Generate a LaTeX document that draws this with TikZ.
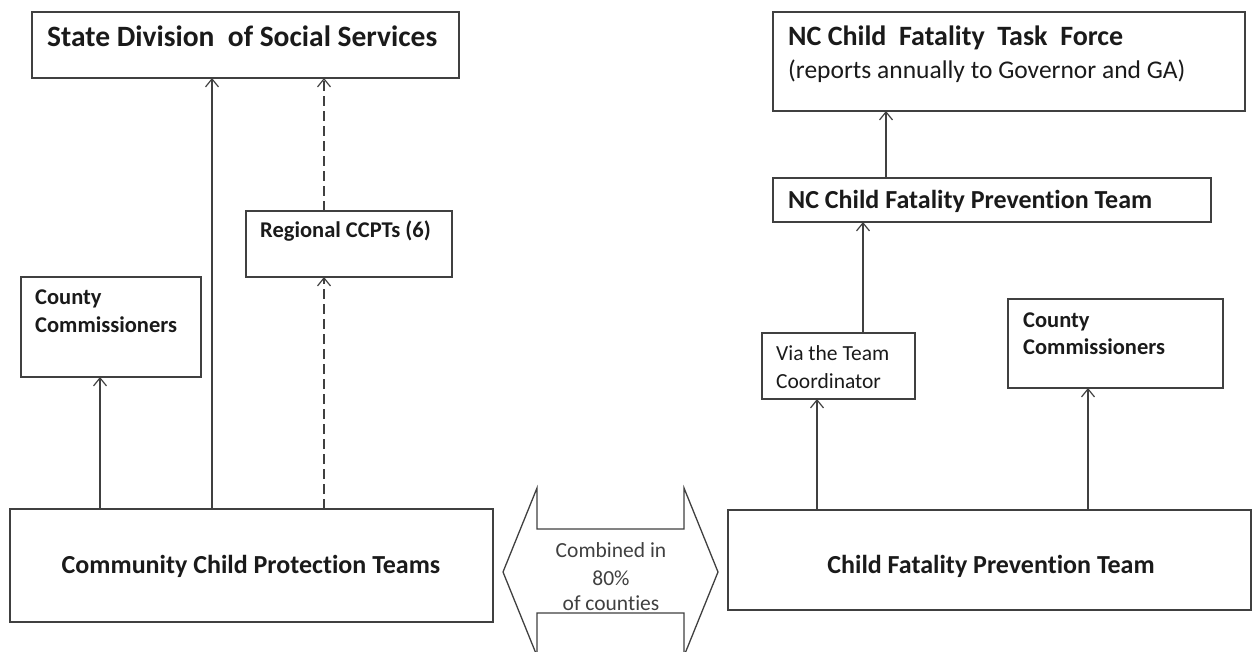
\documentclass[tikz,border=0pt]{standalone}
\usepackage{fontspec}
\setmainfont{Carlito}[Ligatures={NoCommon,NoContextual}]
\usetikzlibrary{arrows.meta}
\definecolor{ln}{HTML}{404040}
\definecolor{tx}{HTML}{1A1A1A}
\tikzset{
  box/.style={draw=ln, line width=1.3pt, rectangle, anchor=north west, inner sep=0pt, outer sep=0pt},
  arr/.style={draw=ln, line width=1.3pt, -{Straight Barb[length=8pt,width=13pt,line width=1.2pt]}},
  darr/.style={arr, dash pattern=on 10pt off 5pt},
  txt/.style={anchor=base west, inner sep=0pt, text=tx},
  ctxt/.style={anchor=base, inner sep=0pt, text=tx},
}
\newcommand{\fs}[1]{\fontsize{#1pt}{#1pt}\selectfont}
\begin{document}
\begin{tikzpicture}[x=1pt,y=-1pt]
\useasboundingbox (0,0) rectangle (1253,652);
% left side boxes
\node[box, minimum width=427pt, minimum height=66pt] (ssd) at (32,12) {};
\node[box, minimum width=206pt, minimum height=66pt] (reg) at (246,211) {};
\node[box, minimum width=180pt, minimum height=100pt] (ccL) at (21,277) {};
\node[box, minimum width=483pt, minimum height=113pt] (ccpt) at (10,509) {};
% right side boxes
\node[box, minimum width=472pt, minimum height=99pt] (task) at (773,12) {};
\node[box, minimum width=438pt, minimum height=44pt] (ncp) at (773,178) {};
\node[box, minimum width=153pt, minimum height=66pt] (via) at (762,333) {};
\node[box, minimum width=215pt, minimum height=89pt] (ccR) at (1008,299) {};
\node[box, minimum width=523pt, minimum height=100pt] (cfpt) at (728,510) {};
% texts
\node[txt] (tssd) at (47,47) {\fs{29.5}\bfseries State Division\ \ of Social Services};
\node[txt] (treg) at (260,238) {\fs{22.5}\bfseries Regional CCPTs (6)};
\node[txt] (tccL1) at (35,305) {\fs{22.5}\bfseries County};
\node[txt] (tccL2) at (35,332) {\fs{22.5}\bfseries Commissioners};
\node[ctxt] (tccpt) at (251,573) {\fs{26}\bfseries Community Child Protection Teams};
\node[txt] (ttask1) at (788,46) {\fs{28}\bfseries NC Child\ \ Fatality\ \ Task\ \ Force};
\node[txt] (ttask2) at (788,79) {\fs{25.5}(reports annually to Governor and GA)};
\node[txt] (tncp) at (788,209) {\fs{26}\bfseries NC Child Fatality Prevention Team};
\node[txt] (tvia1) at (776,360) {\fs{21.5}Via the Team};
\node[txt] (tvia2) at (776,388) {\fs{21.5}Coordinator};
\node[txt] (tccR1) at (1023,327) {\fs{22.5}\bfseries County};
\node[txt] (tccR2) at (1023,355) {\fs{22.5}\bfseries Commissioners};
\node[ctxt] (tcfpt) at (991,573) {\fs{26}\bfseries Child Fatality Prevention Team};
% double arrow
\draw[ln, line width=1.3pt, fill=white] (503,572) -- (537,488) -- (537,529) -- (684,529) -- (684,488) -- (718,572) -- (684,656) -- (684,613) -- (537,613) -- (537,656) -- cycle;
\node[ctxt, text=ln] (tcomb1) at (611,557) {\fs{21.5}Combined in};
\node[ctxt, text=ln] (tcomb2) at (611,585) {\fs{21.5}80\%};
\node[ctxt, text=ln] (tcomb3) at (611,610) {\fs{21.5}of counties};
% connectors
\draw[arr] ([xshift=90pt]ccpt.north west) -- ([xshift=79pt]ccL.south west);
\draw[arr] ([xshift=202pt]ccpt.north west) -- ([xshift=180pt]ssd.south west);
\draw[darr] ([xshift=314pt]ccpt.north west) -- ([xshift=78pt]reg.south west);
\draw[darr] ([xshift=78pt]reg.north west) -- ([xshift=292pt]ssd.south west);
\draw[arr] ([xshift=89pt]cfpt.north west) -- ([xshift=55pt]via.south west);
\draw[arr] ([xshift=360pt]cfpt.north west) -- ([xshift=80pt]ccR.south west);
\draw[arr] ([xshift=101pt]via.north west) -- ([xshift=90pt]ncp.south west);
\draw[arr] ([xshift=113pt]ncp.north west) -- ([xshift=113pt]task.south west);
\end{tikzpicture}
\end{document}
